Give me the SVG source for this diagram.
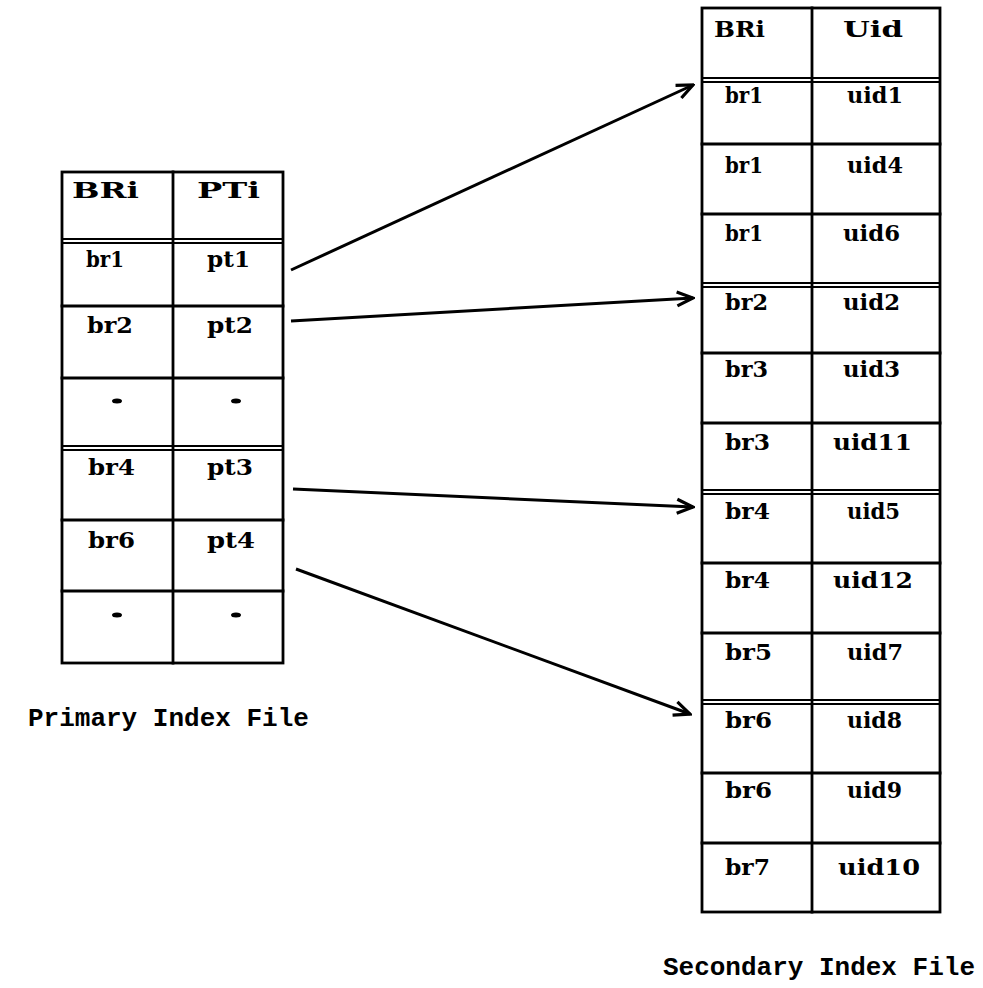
<svg xmlns="http://www.w3.org/2000/svg" width="983" height="988" viewBox="0 0 983 988">
<defs>
<style>
.bg{fill:#fff}
.grid{stroke:#000;stroke-width:2.8;fill:none;stroke-linecap:square}
.dbl{stroke:#000;stroke-width:2.2;fill:none}
.cell{font-family:"DejaVu Serif","Liberation Serif",serif;font-weight:bold;font-size:23px;fill:#000}
.lbl{font-family:"Liberation Mono","DejaVu Sans Mono",monospace;font-weight:bold;font-size:26px;fill:#000}
.conn{stroke:#000;stroke-width:3;fill:none;marker-end:url(#ah)}
.dot{fill:#000}
</style>
<marker id="ah" viewBox="0 0 20 20" refX="18" refY="10" markerWidth="20" markerHeight="20" markerUnits="userSpaceOnUse" orient="auto">
<path d="M2,3 L18,10 L2,17" fill="none" stroke="#000" stroke-width="3.2" stroke-linejoin="miter"/>
</marker>
</defs>
<rect class="bg" x="0" y="0" width="983" height="988"/>

<g id="primary-index">
<rect class="grid" x="62" y="172" width="221" height="491"/>
<line class="grid" x1="173" y1="172" x2="173" y2="663"/>
<line class="dbl" x1="62" y1="239" x2="283" y2="239"/>
<line class="dbl" x1="62" y1="243" x2="283" y2="243"/>
<line class="grid" x1="62" y1="306" x2="283" y2="306"/>
<line class="grid" x1="62" y1="378" x2="283" y2="378"/>
<line class="dbl" x1="62" y1="446" x2="283" y2="446"/>
<line class="dbl" x1="62" y1="450" x2="283" y2="450"/>
<line class="grid" x1="62" y1="520" x2="283" y2="520"/>
<line class="grid" x1="62" y1="591" x2="283" y2="591"/>
<text class="cell" x="72" y="198" textLength="67" lengthAdjust="spacingAndGlyphs">BRi</text>
<text class="cell" x="197" y="198" textLength="63" lengthAdjust="spacingAndGlyphs">PTi</text>
<text class="cell" x="86" y="267" textLength="38" lengthAdjust="spacingAndGlyphs">br1</text>
<text class="cell" x="207" y="267" textLength="43" lengthAdjust="spacingAndGlyphs">pt1</text>
<text class="cell" x="87" y="333" textLength="46" lengthAdjust="spacingAndGlyphs">br2</text>
<text class="cell" x="207" y="333" textLength="46" lengthAdjust="spacingAndGlyphs">pt2</text>
<ellipse class="dot" cx="117" cy="401" rx="5" ry="2.5"/>
<ellipse class="dot" cx="236" cy="401" rx="5" ry="2.5"/>
<text class="cell" x="88" y="475" textLength="47" lengthAdjust="spacingAndGlyphs">br4</text>
<text class="cell" x="207" y="475" textLength="46" lengthAdjust="spacingAndGlyphs">pt3</text>
<text class="cell" x="88" y="548" textLength="47" lengthAdjust="spacingAndGlyphs">br6</text>
<text class="cell" x="207" y="548" textLength="48" lengthAdjust="spacingAndGlyphs">pt4</text>
<ellipse class="dot" cx="117" cy="615" rx="5" ry="2.5"/>
<ellipse class="dot" cx="236" cy="615" rx="5" ry="2.5"/>
</g>

<g id="secondary-index">
<rect class="grid" x="702" y="8" width="238" height="904"/>
<line class="grid" x1="812" y1="8" x2="812" y2="912"/>
<line class="dbl" x1="702" y1="78" x2="940" y2="78"/>
<line class="dbl" x1="702" y1="82" x2="940" y2="82"/>
<line class="grid" x1="702" y1="144" x2="940" y2="144"/>
<line class="grid" x1="702" y1="214" x2="940" y2="214"/>
<line class="dbl" x1="702" y1="283" x2="940" y2="283"/>
<line class="dbl" x1="702" y1="287" x2="940" y2="287"/>
<line class="grid" x1="702" y1="353" x2="940" y2="353"/>
<line class="grid" x1="702" y1="423" x2="940" y2="423"/>
<line class="dbl" x1="702" y1="490" x2="940" y2="490"/>
<line class="dbl" x1="702" y1="494" x2="940" y2="494"/>
<line class="grid" x1="702" y1="563" x2="940" y2="563"/>
<line class="grid" x1="702" y1="633" x2="940" y2="633"/>
<line class="dbl" x1="702" y1="700" x2="940" y2="700"/>
<line class="dbl" x1="702" y1="704" x2="940" y2="704"/>
<line class="grid" x1="702" y1="773" x2="940" y2="773"/>
<line class="grid" x1="702" y1="843" x2="940" y2="843"/>
<text class="cell" x="714" y="37" textLength="51" lengthAdjust="spacingAndGlyphs">BRi</text>
<text class="cell" x="843" y="37" textLength="60" lengthAdjust="spacingAndGlyphs">Uid</text>
<text class="cell" x="725" y="103" textLength="38" lengthAdjust="spacingAndGlyphs">br1</text>
<text class="cell" x="847" y="103" textLength="56" lengthAdjust="spacingAndGlyphs">uid1</text>
<text class="cell" x="725" y="173" textLength="38" lengthAdjust="spacingAndGlyphs">br1</text>
<text class="cell" x="847" y="173" textLength="56" lengthAdjust="spacingAndGlyphs">uid4</text>
<text class="cell" x="725" y="241" textLength="38" lengthAdjust="spacingAndGlyphs">br1</text>
<text class="cell" x="843" y="241" textLength="57" lengthAdjust="spacingAndGlyphs">uid6</text>
<text class="cell" x="725" y="310" textLength="43" lengthAdjust="spacingAndGlyphs">br2</text>
<text class="cell" x="843" y="310" textLength="57" lengthAdjust="spacingAndGlyphs">uid2</text>
<text class="cell" x="725" y="377" textLength="43" lengthAdjust="spacingAndGlyphs">br3</text>
<text class="cell" x="843" y="377" textLength="57" lengthAdjust="spacingAndGlyphs">uid3</text>
<text class="cell" x="725" y="450" textLength="45" lengthAdjust="spacingAndGlyphs">br3</text>
<text class="cell" x="833" y="450" textLength="79" lengthAdjust="spacingAndGlyphs">uid11</text>
<text class="cell" x="725" y="519" textLength="45" lengthAdjust="spacingAndGlyphs">br4</text>
<text class="cell" x="847" y="519" textLength="53" lengthAdjust="spacingAndGlyphs">uid5</text>
<text class="cell" x="725" y="588" textLength="45" lengthAdjust="spacingAndGlyphs">br4</text>
<text class="cell" x="833" y="588" textLength="80" lengthAdjust="spacingAndGlyphs">uid12</text>
<text class="cell" x="725" y="660" textLength="47" lengthAdjust="spacingAndGlyphs">br5</text>
<text class="cell" x="847" y="660" textLength="56" lengthAdjust="spacingAndGlyphs">uid7</text>
<text class="cell" x="725" y="728" textLength="47" lengthAdjust="spacingAndGlyphs">br6</text>
<text class="cell" x="847" y="728" textLength="55" lengthAdjust="spacingAndGlyphs">uid8</text>
<text class="cell" x="725" y="798" textLength="47" lengthAdjust="spacingAndGlyphs">br6</text>
<text class="cell" x="847" y="798" textLength="55" lengthAdjust="spacingAndGlyphs">uid9</text>
<text class="cell" x="725" y="875" textLength="45" lengthAdjust="spacingAndGlyphs">br7</text>
<text class="cell" x="838" y="875" textLength="82" lengthAdjust="spacingAndGlyphs">uid10</text>
</g>

<g id="connectors">
<line class="conn" x1="291" y1="270" x2="693" y2="85"/>
<line class="conn" x1="291" y1="321" x2="693" y2="298"/>
<line class="conn" x1="293" y1="489" x2="693" y2="507"/>
<line class="conn" x1="296" y1="569" x2="690" y2="714"/>
</g>

<g id="label-primary">
<text class="lbl" x="28" y="726">Primary Index File</text>
</g>
<g id="label-secondary">
<text class="lbl" x="975" y="975" text-anchor="end">Secondary Index File</text>
</g>
</svg>
